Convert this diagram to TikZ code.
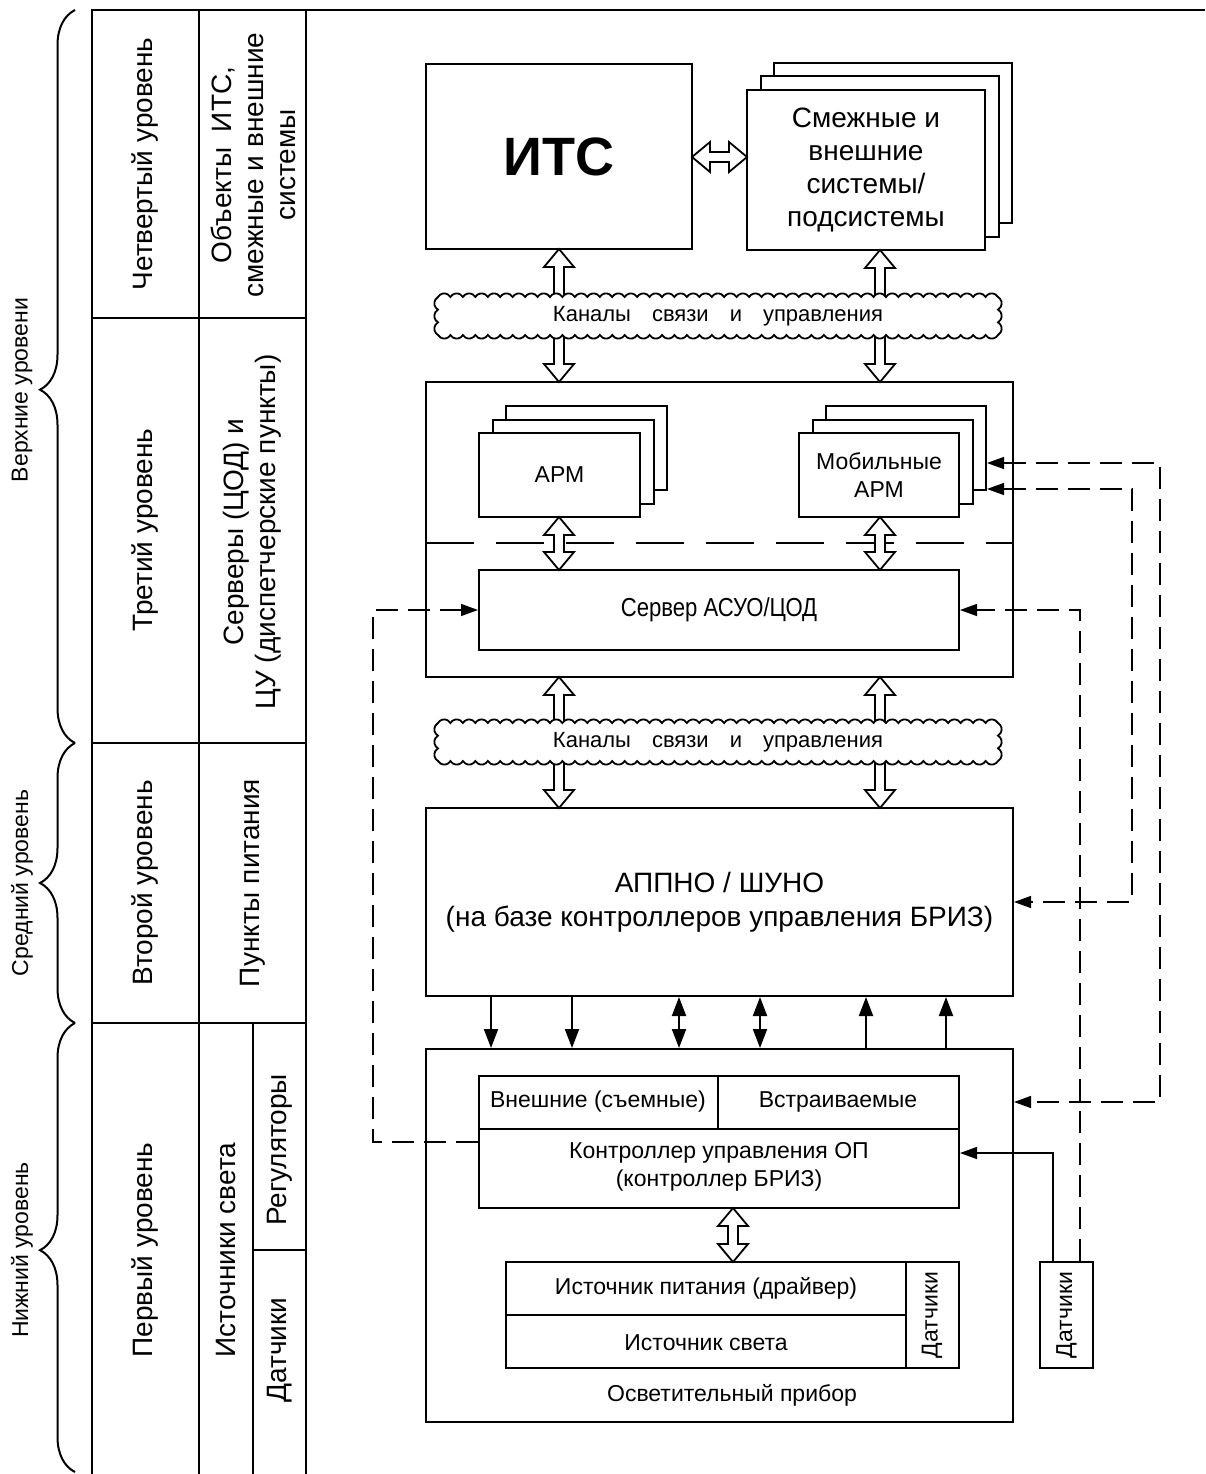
\documentclass[tikz,border=0pt]{standalone}
\usepackage{fontspec}
\setmainfont{Liberation Sans}
\newfontfamily\narrowf[FakeStretch=0.85]{Liberation Sans}
\usetikzlibrary{arrows.meta,decorations.pathreplacing,calc}

\tikzset{
  box/.style={draw, line width=2pt, fill=white, inner sep=0pt},
  tl/.style={line width=2pt},
  t28/.style={font=\fontsize{28}{32}\selectfont, align=center, inner sep=0pt},
  t23/.style={font=\fontsize{23}{28}\selectfont, align=center, inner sep=0pt},
  t22/.style={font=\fontsize{22}{26}\selectfont, align=center, inner sep=0pt},
  harr/.style={draw, fill=white, line width=1.8pt, line join=miter},
  sarr/.style={line width=2pt, >={Triangle[length=19pt,width=14pt]}},
  dsh/.style={line width=1.4pt, dash pattern=on 22pt off 10pt, >={Triangle[length=17pt,width=12pt]}},
  bracestyle/.style={line width=2pt, decorate},
}

% hollow arrows (x, y positive downwards in pixels)
\newcommand\hup[3]{% x, ytip, ytail
  \draw[harr] (#1-5,-#3) -- (#1-5,-#2-18) -- (#1-15,-#2-18) -- (#1,-#2) -- (#1+15,-#2-18) -- (#1+5,-#2-18) -- (#1+5,-#3);}
\newcommand\hdown[3]{% x, ytail, ytip
  \draw[harr] (#1-5,-#2) -- (#1-5,-#3+18) -- (#1-15,-#3+18) -- (#1,-#3) -- (#1+15,-#3+18) -- (#1+5,-#3+18) -- (#1+5,-#2);}
\newcommand\hdbl[3]{% x, ytop, ybot
  \draw[harr] (#1,-#2) -- (#1+15,-#2-18) -- (#1+5,-#2-18) -- (#1+5,-#3+18) -- (#1+15,-#3+18) -- (#1,-#3) -- (#1-15,-#3+18) -- (#1-5,-#3+18) -- (#1-5,-#2-18) -- (#1-15,-#2-18) -- cycle;}
\newcommand\hdblh[3]{% y, xleft, xright
  \draw[harr] (#2,-#1) -- (#2+18,-#1+15) -- (#2+18,-#1+5) -- (#3-18,-#1+5) -- (#3-18,-#1+15) -- (#3,-#1) -- (#3-18,-#1-15) -- (#3-18,-#1-5) -- (#2+18,-#1-5) -- (#2+18,-#1-15) -- cycle;}
% cloud: x1,y1,x2,y2,nh,nv
\newcommand\cloudshape[6]{%
  \pgfmathsetmacro\cch{(#3-#1)/#5}\pgfmathsetmacro\crh{\cch/1.7320508}%
  \pgfmathsetmacro\ccv{(#4-#2)/#6}\pgfmathsetmacro\crv{\ccv/1.7320508}%
  \draw[line width=1.8pt, fill=white] (#1,-#2)
    \foreach \i in {1,...,#5}{ arc[start angle=150,end angle=30,radius=\crh] }
    \foreach \i in {1,...,#6}{ arc[start angle=60,end angle=-60,radius=\crv] }
    \foreach \i in {1,...,#5}{ arc[start angle=-30,end angle=-150,radius=\crh] }
    \foreach \i in {1,...,#6}{ arc[start angle=240,end angle=120,radius=\crv] } -- cycle;}

\begin{document}
\begin{tikzpicture}[x=1pt,y=1pt]
\useasboundingbox (0,0) rectangle (1205,-1474);

% ---------- left table ----------
\draw[tl] (92,-1474) -- (92,-10) -- (1205,-10);
\draw[tl] (199,-10) -- (199,-1474);
\draw[tl] (306,-10) -- (306,-1474);
\draw[tl] (92,-318) -- (306,-318);
\draw[tl] (92,-743) -- (306,-743);
\draw[tl] (92,-1023) -- (306,-1023);
\draw[tl] (253,-1023) -- (253,-1474);
\draw[tl] (253,-1250) -- (306,-1250);

\node[t28, rotate=90] (l4) at (145,-164) {Четвертый уровень};
\node[t28, rotate=90] (o4) at (253,-165) {Объекты\ \ ИТС,\\смежные и внешние\\системы};
\node[t28, rotate=90] (l3) at (145,-530) {Третий уровень};
\node[t28, rotate=90] (o3) at (252,-532) {Серверы (ЦОД) и\\ЦУ (диспетчерские пункты)};
\node[t28, rotate=90] (l2) at (145,-883) {Второй уровень};
\node[t28, rotate=90] (o2) at (253,-883) {Пункты питания};
\node[t28, rotate=90] (l1) at (145,-1250) {Первый уровень};
\node[t28, rotate=90] (o1) at (226,-1250) {Источники света};
\node[t28, rotate=90] (o1a) at (280,-1150) {Регуляторы};
\node[t28, rotate=90] (o1b) at (280,-1350) {Датчики};

% braces
\draw[bracestyle, decoration={brace, amplitude=35pt, aspect=0.482}] (75,-743) -- (75,-10);
\draw[bracestyle, decoration={brace, amplitude=35pt, aspect=0.5}] (75,-1023) -- (75,-743);
\draw[bracestyle, decoration={brace, amplitude=35pt, aspect=0.494}] (75,-1472) -- (75,-1023);
\node[t23, rotate=90] (bu) at (22,-390) {Верхние уровени};
\node[t23, rotate=90] (bm) at (22,-883) {Средний уровень};
\node[t23, rotate=90] (bl) at (22,-1250) {Нижний уровень};

% ---------- level 4 ----------
\node[box, minimum width=266, minimum height=185, font=\fontsize{54}{60}\selectfont\bfseries] (its) at (559,-156.5) {ИТС};
\node[box, minimum width=238, minimum height=160] (smzB) at (893,-143) {};
\node[box, minimum width=238, minimum height=160] (smzM) at (879.5,-156.5) {};
\node[box, minimum width=238, minimum height=160, font=\fontsize{28}{33.3}\selectfont, align=center] (smz) at (866,-170) {Смежные и\\внешние\\системы/\\подсистемы};
\hdblh{157}{692}{747}

% ---------- level 3 ----------
\node[box, minimum width=587, minimum height=295] (blk3) at (719.5,-529.5) {};
\draw[line width=2pt, dash pattern=on 48pt off 22pt] (426,-543) -- (1013,-543);
\node[box, minimum width=161, minimum height=84] (armB) at (586.5,-448) {};
\node[box, minimum width=161, minimum height=84] (armM) at (573,-461.5) {};
\node[box, minimum width=161, minimum height=84, font=\fontsize{23}{28}\selectfont] (arm) at (559.5,-475) {АРМ};
\node[box, minimum width=160, minimum height=84] (marmB) at (906,-448) {};
\node[box, minimum width=160, minimum height=84] (marmM) at (892.5,-461.5) {};
\node[box, minimum width=160, minimum height=84, font=\fontsize{23}{28}\selectfont, align=center] (marm) at (879,-475) {Мобильные\\АРМ};
\node[box, minimum width=480, minimum height=80, font=\narrowf\fontsize{26}{30}\selectfont] (server) at (719,-610) {Сервер АСУО/ЦОД};
\hdbl{559}{517}{570}
\hdbl{880}{517}{570}

% ---------- level 2 ----------
\node[box, minimum width=587, minimum height=188, font=\fontsize{28}{34}\selectfont, align=center] (appno) at (719.5,-902) {АППНО / ШУНО\\(на базе контроллеров управления БРИЗ)};

% ---------- level 1 ----------
\node[box, minimum width=587, minimum height=373] (lamp) at (719.5,-1235.5) {};
\node[box, minimum width=480, minimum height=132] (ctrl) at (719,-1142) {};
\draw[tl] (479,-1129) -- (959,-1129);
\draw[tl] (718,-1076) -- (718,-1129);
\node[t23] (ext) at (598,-1102) {Внешние (съемные)};
\node[t23] (emb) at (838,-1102) {Встраиваемые};
\node[t23] (ctrlt) at (719,-1167) {Контроллер управления ОП\\(контроллер БРИЗ)};
\node[box, minimum width=453, minimum height=106] (ist) at (732.5,-1315) {};
\draw[tl] (906,-1262) -- (906,-1368);
\draw[tl] (506,-1315) -- (906,-1315);
\node[t23] (pw) at (706,-1288) {Источник питания (драйвер)};
\node[t23] (ls) at (706,-1343) {Источник света};
\node[t23, rotate=90] (sn1) at (932,-1315) {Датчики};
\node[t23] (lampt) at (732,-1395) {Осветительный прибор};
\node[box, minimum width=53, minimum height=106] (dat) at (1066.5,-1315) {};
\node[t23, rotate=90] (datt) at (1066.5,-1315) {Датчики};
\hdbl{733}{1208}{1262}

% ---------- hollow arrows to clouds ----------
\hup{559}{249}{305}
\hup{880}{250}{305}
\hdown{559}{328}{382}
\hdown{880}{328}{382}
\hup{559}{677}{731}
\hup{880}{677}{731}
\hdown{559}{754}{808}
\hdown{880}{754}{808}

% clouds
\cloudshape{438}{297}{998}{335}{45}{3}
\node[t22] (ch1) at (718,-316) {Каналы\hspace{21pt}связи\hspace{21pt}и\hspace{21pt}управления};
\cloudshape{438}{723}{998}{761}{45}{3}
\node[t22] (ch2) at (718,-742) {Каналы\hspace{21pt}связи\hspace{21pt}и\hspace{21pt}управления};

% ---------- solid arrows between level 2 and level 1 ----------
\coordinate (v1) at (491,0);
\coordinate (v2) at (572,0);
\coordinate (v3) at (679,0);
\coordinate (v4) at (760,0);
\coordinate (v5) at (866,0);
\coordinate (v6) at (946,0);
\draw[sarr,->] (appno.south -| v1) -- (lamp.north -| v1);
\draw[sarr,->] (appno.south -| v2) -- (lamp.north -| v2);
\draw[sarr,<->] (appno.south -| v3) -- (lamp.north -| v3);
\draw[sarr,<->] (appno.south -| v4) -- (lamp.north -| v4);
\draw[sarr,<-] (appno.south -| v5) -- (lamp.north -| v5);
\draw[sarr,<-] (appno.south -| v6) -- (lamp.north -| v6);

% ---------- side connectors ----------
\coordinate (xl) at (373,0);
\coordinate (xa) at (1053,0);
\coordinate (xb) at (1080,0);
\coordinate (xc) at (1132,0);
\coordinate (xd) at (1160,0);
\coordinate (ya) at (0,-1153);
\coordinate (yc) at (0,-489);
\coordinate (yd1) at (0,-463);
\coordinate (yd2) at (0,-1102);

\draw[dsh,->] (ctrl.west) -- (ctrl.west -| xl) |- (server.west);
\draw[dsh,->] (dat.north -| xb) |- (server.east);
\draw[sarr, line width=1.4pt, >={Triangle[length=17pt,width=12pt]}, ->] (dat.north -| xa) |- (ctrl.east |- ya);
\draw[dsh,<->] (marmB.east |- yc) -| (xc |- appno.east) -- (appno.east);
\draw[dsh,<->] (marmB.east |- yd1) -| (xd |- yd2) -- (lamp.east |- yd2);

\end{tikzpicture}
\end{document}
